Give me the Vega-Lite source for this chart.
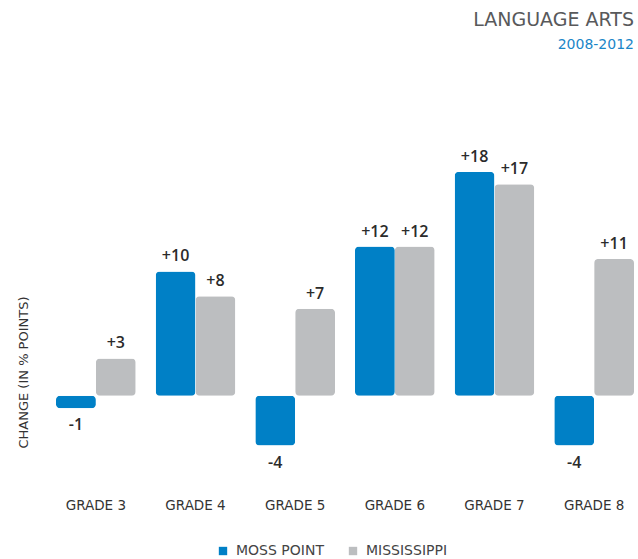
{
  "$schema": "https://vega.github.io/schema/vega-lite/v6.json",
  "autosize": {"type": "none"},
  "width": 578,
  "height": 311,
  "padding": {"left": 56, "top": 147, "right": 4, "bottom": 101},
  "background": "white",
  "config": {"view": {"stroke": null}, "font": "DejaVu Sans"},
  "title": {
    "text": "LANGUAGE ARTS",
    "subtitle": "2008-2012",
    "anchor": "end",
    "frame": "group",
    "font": "DejaVu Sans",
    "fontSize": 19,
    "fontWeight": "normal",
    "color": "#58595b",
    "subtitleFont": "DejaVu Sans",
    "subtitleFontSize": 14,
    "subtitleColor": "#1a86c8",
    "subtitlePadding": 8,
    "offset": 95
  },
  "data": {
    "values": [
      {"grade": "GRADE 3", "series": "MOSS POINT", "value": -1, "label": "-1"},
      {"grade": "GRADE 3", "series": "MISSISSIPPI", "value": 3, "label": "+3"},
      {"grade": "GRADE 4", "series": "MOSS POINT", "value": 10, "label": "+10"},
      {"grade": "GRADE 4", "series": "MISSISSIPPI", "value": 8, "label": "+8"},
      {"grade": "GRADE 5", "series": "MOSS POINT", "value": -4, "label": "-4"},
      {"grade": "GRADE 5", "series": "MISSISSIPPI", "value": 7, "label": "+7"},
      {"grade": "GRADE 6", "series": "MOSS POINT", "value": 12, "label": "+12"},
      {"grade": "GRADE 6", "series": "MISSISSIPPI", "value": 12, "label": "+12"},
      {"grade": "GRADE 7", "series": "MOSS POINT", "value": 18, "label": "+18"},
      {"grade": "GRADE 7", "series": "MISSISSIPPI", "value": 17, "label": "+17"},
      {"grade": "GRADE 8", "series": "MOSS POINT", "value": -4, "label": "-4"},
      {"grade": "GRADE 8", "series": "MISSISSIPPI", "value": 11, "label": "+11"}
    ]
  },
  "encoding": {
    "x": {
      "field": "grade",
      "type": "nominal",
      "sort": null,
      "scale": {"paddingInner": 0.2, "paddingOuter": 0},
      "axis": {
        "title": null,
        "domain": false,
        "ticks": false,
        "labelAngle": 0,
        "labelPadding": 40,
        "labelFontSize": 13.5,
        "labelColor": "#333333",
        "labelFont": "DejaVu Sans"
      }
    },
    "xOffset": {
      "field": "series",
      "type": "nominal",
      "sort": ["MOSS POINT", "MISSISSIPPI"],
      "scale": {"paddingInner": 0, "paddingOuter": 0}
    },
    "y": {
      "field": "value",
      "type": "quantitative",
      "scale": {"domain": [-5, 20], "nice": false, "zero": true},
      "axis": {
        "title": "CHANGE (IN % POINTS)",
        "titleFont": "DejaVu Sans",
        "titleFontSize": 13,
        "titleFontWeight": "normal",
        "titleColor": "#333333",
        "titleX": -33,
        "titleY": 225,
        "titleAngle": -90,
        "titleAlign": "center",
        "titleBaseline": "middle",
        "domain": false,
        "ticks": false,
        "labels": false,
        "grid": false
      }
    }
  },
  "layer": [
    {
      "mark": {"type": "bar", "cornerRadius": 4},
      "encoding": {
        "color": {
          "field": "series",
          "type": "nominal",
          "sort": ["MOSS POINT", "MISSISSIPPI"],
          "scale": {"domain": ["MOSS POINT", "MISSISSIPPI"], "range": ["#0080c6", "#bcbec0"]},
          "legend": {
            "title": null,
            "orient": "none",
            "direction": "horizontal",
            "legendX": 160,
            "legendY": 397,
            "padding": 0,
            "symbolType": "square",
            "symbolSize": 70,
            "symbolStrokeWidth": 0,
            "labelFont": "DejaVu Sans",
            "labelFontSize": 14,
            "labelColor": "#444444",
            "labelOffset": 6,
            "columnPadding": 22
          }
        }
      }
    },
    {
      "transform": [{"filter": "datum.value >= 0"}],
      "mark": {"type": "text", "baseline": "bottom", "dy": -7, "fontSize": 16, "fontWeight": 600, "color": "#2b2b2b", "font": "Open Sans"},
      "encoding": {"text": {"field": "label"}}
    },
    {
      "transform": [{"filter": "datum.value < 0"}],
      "mark": {"type": "text", "baseline": "top", "dy": 9, "fontSize": 16, "fontWeight": 600, "color": "#2b2b2b", "font": "Open Sans"},
      "encoding": {"text": {"field": "label"}}
    }
  ]
}
